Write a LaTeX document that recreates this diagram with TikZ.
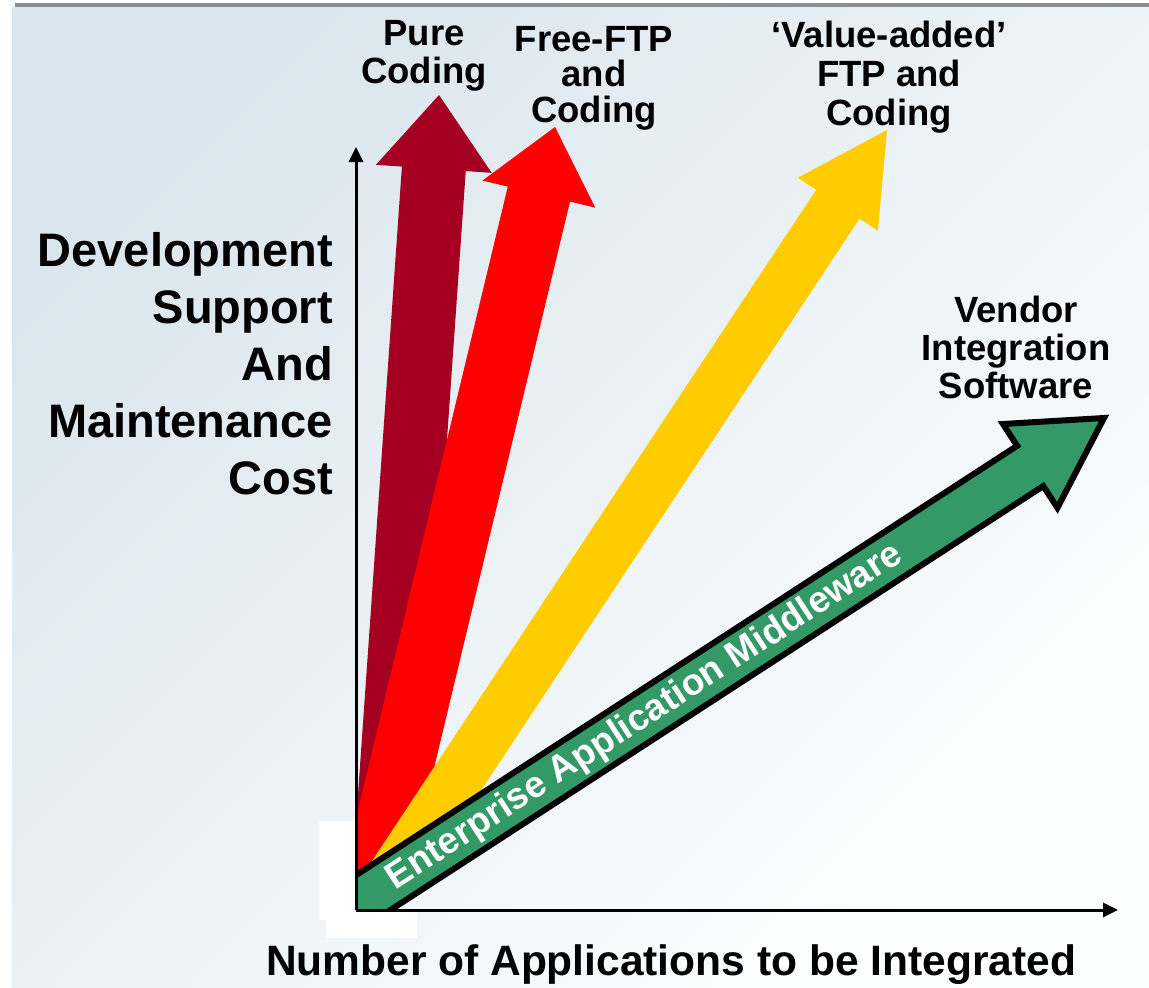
\documentclass[tikz,border=0pt]{standalone}
\usepackage{fontspec}
\setmainfont{Liberation Sans}
\usetikzlibrary{arrows.meta}

\definecolor{darkred}{HTML}{A50021}
\definecolor{brightred}{HTML}{FF0000}
\definecolor{gold}{HTML}{FFCC00}
\definecolor{eamgreen}{HTML}{339966}
\definecolor{bgtop}{HTML}{DAE6ED}
\definecolor{bgbot}{HTML}{FDFEFE}
\definecolor{topbar}{HTML}{8A8E91}

\tikzset{
  lab/.style={font=\bfseries\fontsize{36.5}{38}\selectfont, align=center, inner sep=0pt, text=black},
  axisline/.style={line width=3pt, -{Triangle[length=15pt,width=14pt]}},
}

% block arrow pointing along +x, tip at the origin of its local frame
% #1 style, #2 tip, #3 direction angle, #4 head length, #5 head half-width,
% #6 shaft half-width, #7 overall length
\newcommand\blockarrow[7]{%
  \path[#1, shift={#2}, rotate=#3]
    (0,0) -- (-#4,#5) -- (-#4,#6) -- (-#7,#6) -- (-#7,-#6) -- (-#4,-#6) -- (-#4,-#5) -- cycle;}

\begin{document}
\begin{tikzpicture}[x=1pt, y=-1pt]
  \useasboundingbox (0,0) rectangle (1149,988);

  % background panel
  \fill[white] (0,0) rectangle (1149,988);
  \shade[top color=bgtop, bottom color=bgbot, shading angle=45] (12,7) rectangle (1149,988);
  \fill[topbar] (15,3) rectangle (1149,7.3);
  \fill[white] (319,821) rectangle (355,920);
  \fill[white] (326,910) rectangle (417,938);

  \coordinate (O) at (356,910);
  \coordinate (ytop) at (356,147);
  \coordinate (xend) at (1118,910);

  % trend arrows, kept inside the first quadrant
  \begin{scope}
    \clip (356,0) rectangle (1149,910);
    \blockarrow{fill=darkred}{(439,95)}{86}{74}{58}{32}{790}
    \blockarrow{fill=brightred}{(555,127)}{76.5}{69}{58}{32}{780}
    \blockarrow{fill=gold}{(887,130)}{56.5}{89}{48}{26}{900}
    \blockarrow{fill=eamgreen, draw=black, line width=6pt}{(1104,418)}{33}{88}{50}{24}{900}
  \end{scope}

  % axes
  \draw[axisline] (O) -- (ytop);
  \draw[axisline] (O) -- (xend);

  % labels
  \node[lab] (pure) at (424,56) {Pure\\Coding};
  \node[lab, font=\bfseries\fontsize{36.5}{35.5}\selectfont] (freeftp) at (594,78) {Free-FTP\\and\\Coding};
  \node[lab, font=\bfseries\fontsize{36.5}{39}\selectfont] (valueadded) at (889,77) {‘Value-added’\\FTP and\\Coding};
  \node[lab] (vendor) at (1016,347) {Vendor\\Integration\\Software};
  \node[font=\bfseries\fontsize{47}{57}\selectfont, align=right, anchor=east, inner sep=0pt] (ylabel) at (333,364)
    {Development\\Support\\And\\Maintenance\\Cost};
  \node[font=\bfseries\fontsize{42.5}{50}\selectfont, anchor=base, inner sep=0pt] (xlabel) at (671,975)
    {Number of Applications to be Integrated};
  \node[lab, text=white, font=\bfseries\fontsize{37}{40}\selectfont, rotate=33] (eam) at (645,717)
    {Enterprise Application Middleware};
\end{tikzpicture}
\end{document}
